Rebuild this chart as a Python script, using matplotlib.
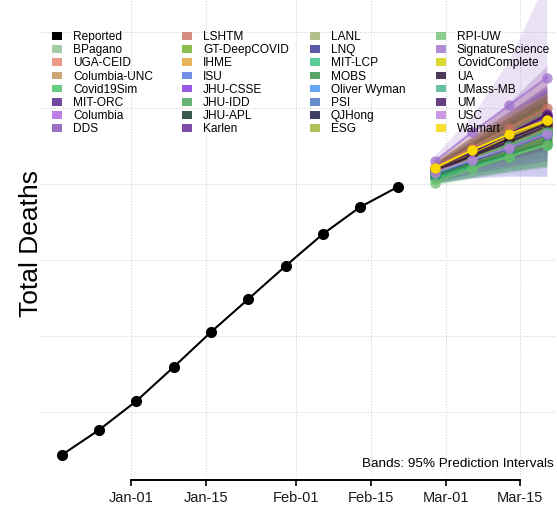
import numpy as np
import matplotlib
matplotlib.use("Agg")
import matplotlib.pyplot as plt
import matplotlib.dates as mdates
from matplotlib.patches import Patch

plt.rcParams["font.family"] = ["Liberation Sans", "DejaVu Sans"]

# observed cumulative deaths (thousands), weekly
reported_dates = ["2020-12-19", "2020-12-26", "2021-01-02", "2021-01-09", "2021-01-16",
                  "2021-01-23", "2021-01-30", "2021-02-06", "2021-02-13", "2021-02-20"]
reported = [321.7, 338.2, 357.2, 379.6, 402.6, 424.3, 446.1, 467.1, 484.9, 498.0]

forecast_dates = ["2021-02-27", "2021-03-06", "2021-03-13", "2021-03-20"]

models = ["BPagano", "UGA-CEID", "Columbia-UNC", "Covid19Sim", "MIT-ORC", "Columbia", "DDS",
          "LSHTM", "GT-DeepCOVID", "IHME", "ISU", "JHU-CSSE", "JHU-IDD", "JHU-APL", "Karlen",
          "LANL", "LNQ", "MIT-LCP", "MOBS", "Oliver Wyman", "PSI", "QJHong", "ESG",
          "RPI-UW", "SignatureScience", "CovidComplete", "UA", "UMass-MB", "UM", "USC", "Walmart"]

colors = ["#8fc08f", "#e8806a", "#c09050", "#40c060", "#4b1a8a", "#b060e0", "#8050b0",
          "#c87060", "#70b020", "#e0a030", "#5070e0", "#8030e0", "#40a050", "#0a3020", "#602090",
          "#a0b070", "#303090", "#30c080", "#309040", "#4090f0", "#4070c0", "#101040", "#a0b030",
          "#70c070", "#a070d0", "#d0d000", "#200830", "#40b090", "#401060", "#c080e0", "#f8d800"]

point_est = [
    [507, 517, 527, 537], [508, 519, 530, 541], [509, 520, 531, 542], [503, 511, 518, 526],
    [507, 516, 525, 534], [510, 522, 533, 545], [509, 519, 529, 539], [511, 524, 537, 550],
    [506, 515, 523, 531], [508, 518, 528, 538], [507, 516, 524, 533], [509, 521, 532, 543],
    [505, 513, 521, 529], [506, 515, 524, 533], [509, 521, 533, 546], [507, 516, 525, 535],
    [508, 517, 527, 536], [504, 512, 519, 526], [505, 513, 520, 527], [507, 516, 526, 535],
    [506, 515, 523, 532], [508, 518, 528, 538], [507, 517, 526, 536], [501, 510, 518, 526],
    [515, 534, 552, 570], [509, 520, 531, 541], [509, 519, 530, 540], [507, 516, 525, 534],
    [510, 521, 533, 545], [508, 516, 524, 533], [510.5, 522.4, 532.9, 542.1],
]

lower_95 = [
    [502, 508, 513, 518], [503, 510, 516, 522], [504, 511, 518, 525], [500, 504, 508, 512],
    [502, 507, 511, 515], [505, 512, 518, 524], [504, 510, 515, 520], [506, 514, 522, 530],
    [501, 507, 511, 515], [504, 511, 517, 523], [501, 504, 505, 505], [504, 511, 517, 523],
    [500, 505, 509, 512], [502, 508, 513, 518], [503, 509, 515, 520], [502, 508, 513, 518],
    [503, 509, 514, 519], [500, 505, 509, 512], [501, 505, 508, 511], [503, 509, 514, 519],
    [501, 507, 512, 516], [503, 510, 516, 522], [502, 509, 514, 519], [499, 504, 508, 511],
    [501, 504, 506, 505], [504, 511, 518, 524], [504, 511, 517, 523], [502, 508, 513, 518],
    [505, 512, 519, 526], [503, 508, 512, 516], [506, 514, 520, 526],
]

upper_95 = [
    [512, 527, 542, 557], [513, 529, 545, 561], [514, 530, 545, 560], [507, 519, 530, 541],
    [513, 528, 543, 560], [515, 532, 548, 565], [514, 529, 544, 559], [516, 534, 552, 570],
    [511, 524, 536, 548], [512, 526, 540, 554], [513, 529, 545, 563], [514, 531, 547, 563],
    [510, 522, 534, 546], [510, 523, 536, 549], [514, 531, 554, 578], [512, 525, 538, 553],
    [513, 526, 541, 554], [508, 520, 530, 540], [510, 522, 533, 544], [511, 524, 539, 552],
    [511, 524, 535, 549], [513, 527, 541, 555], [512, 526, 539, 554], [504, 517, 529, 541],
    [519, 545, 582, 635], [514, 529, 544, 558], [514, 528, 544, 558], [512, 525, 538, 551],
    [515, 531, 548, 565], [513, 525, 537, 551], [515, 532, 547, 560],
]

tick_dates = ["2021-01-01", "2021-01-15", "2021-02-01", "2021-02-15", "2021-03-01", "2021-03-15"]
tick_labels = ["Jan-01", "Jan-15", "Feb-01", "Feb-15", "Mar-01", "Mar-15"]
grid_y = [350, 400, 450, 500, 550, 600]

rd = np.array(reported_dates, dtype="datetime64[D]")
fd = np.array(forecast_dates, dtype="datetime64[D]")
td = np.array(tick_dates, dtype="datetime64[D]")

fig = plt.figure(figsize=(5.57, 5.09), dpi=100)
ax = fig.add_axes([40 / 557, 32 / 509, 517 / 557, 477 / 509])

# light dotted grid
for y in grid_y:
    ax.axhline(y, color="#d4d4d4", lw=0.8, ls=(0, (1, 1.5)), zorder=0)
for d in td:
    ax.axvline(d, color="#d4d4d4", lw=0.8, ls=(0, (1, 1.5)), zorder=0)

# prediction bands first, then the point forecasts on top
for i, name in enumerate(models):
    ax.fill_between(fd, lower_95[i], upper_95[i], color=colors[i], alpha=0.2, lw=0, zorder=1)
for i, name in enumerate(models):
    a = 1.0 if name == "Walmart" else 0.75
    ax.plot(fd, point_est[i], "-o", color=colors[i], lw=1.5, ms=7.5, alpha=a,
            mec="none", zorder=2 + i * 0.01)

ax.plot(rd, reported, "-o", color="black", lw=1.5, ms=7, zorder=5)

ax.set_xlim(np.datetime64("2020-12-14T22:00"), np.datetime64("2021-03-21T22:00"))
ax.set_ylim(307.2, 621.1)

ax.set_xticks(td)
ax.set_xticklabels(tick_labels)
ax.set_yticks([])
ax.tick_params(axis="x", direction="out", length=4.5, width=1.2, pad=3.5,
               labelsize=10.5, labelcolor="#1a1a1a")
for s in ["left", "right", "top"]:
    ax.spines[s].set_visible(False)
ax.spines["bottom"].set_linewidth(1.4)
ax.spines["bottom"].set_position(("outward", 2))
ax.spines["bottom"].set_bounds(mdates.date2num(td[0]), mdates.date2num(td[-1]))

fig.text(31 / 557, 1 - 244 / 509, "Total Deaths", rotation=90, fontsize=19,
         ha="center", va="center")
fig.text(362 / 557, 1 - 464 / 509, "Bands: 95% Prediction Intervals", fontsize=9.7,
         ha="left", va="center")

# legend in four fixed columns of eight
labels = ["Reported"] + models
handle_cols = ["black"] + colors
col_x = [52, 182, 310, 436]
for c in range(4):
    sl = slice(c * 8, c * 8 + 8)
    hs = [Patch(facecolor=col, alpha=(1.0 if lab == "Reported" else 0.8), lw=0)
          for col, lab in zip(handle_cols[sl], labels[sl])]
    fig.legend(hs, labels[sl], loc="upper left",
               bbox_to_anchor=(col_x[c] / 557, 1 - 31 / 509),
               bbox_transform=fig.transFigure, frameon=False, fontsize=8.6,
               handlelength=0.85, handleheight=0.6, handletextpad=0.9,
               labelspacing=0.1, borderpad=0, borderaxespad=0)

fig.savefig("out.png", dpi=100)
